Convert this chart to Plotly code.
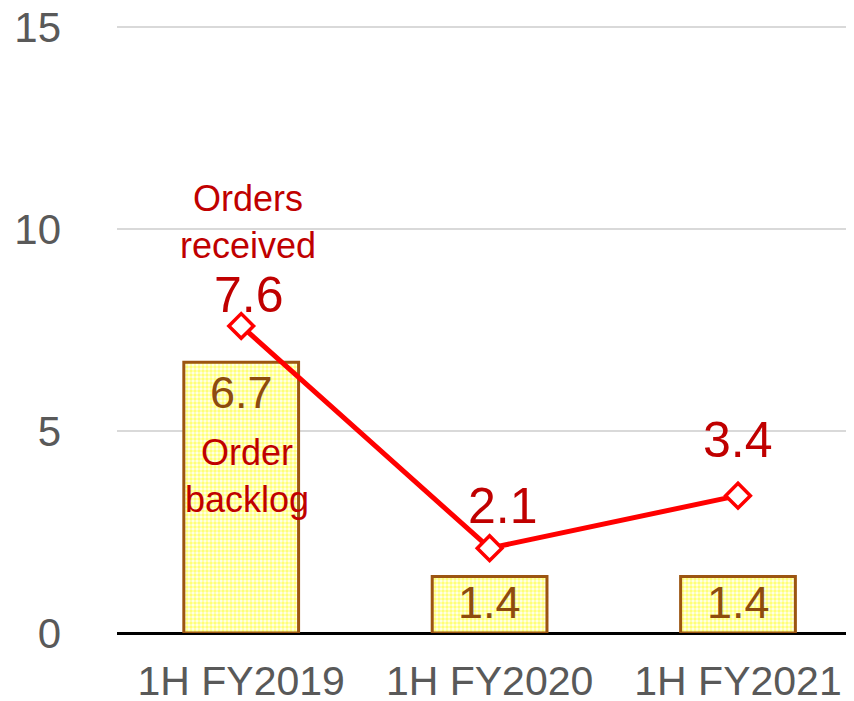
import plotly.graph_objects as go

categories = ["1H FY2019", "1H FY2020", "1H FY2021"]
order_backlog = [6.7, 1.4, 1.4]
orders_received = [7.6, 2.1, 3.4]
y_ticks = [0, 5, 10, 15]

FONT = "Liberation Sans, Arial, sans-serif"
DARKRED = "#C00000"
BROWN = "#8E4B0E"

# label offsets in pixels (styling only)
line_label_shift = [(8, 31), (13, 42), (0, 56)]
bar_label_shift = [-30, -26, -26]

x_idx = list(range(len(categories)))

fig = go.Figure()
fig.add_trace(go.Bar(
    x=x_idx, y=order_backlog, width=0.462,
    marker=dict(
        color="#FFFFE6",
        line=dict(color="#9C5511", width=3),
        pattern=dict(shape=".", fgcolor="#FFFF00", bgcolor="#FFFFF0", size=4, solidity=0.6),
    ),
    showlegend=False, hoverinfo="skip",
))
fig.add_trace(go.Scatter(
    x=x_idx, y=orders_received, mode="lines+markers",
    line=dict(color="#FF0000", width=5),
    marker=dict(symbol="diamond", size=19, color="white", line=dict(color="#FF0000", width=3.5)),
    showlegend=False, hoverinfo="skip",
))

annotations = []
for i, v in enumerate(order_backlog):
    annotations.append(dict(x=i, y=v, text=f"{v:.1f}", showarrow=False, yanchor="middle",
                            yshift=bar_label_shift[i],
                            font=dict(family=FONT, size=45, color=BROWN)))
for i, v in enumerate(orders_received):
    xs, ys = line_label_shift[i]
    annotations.append(dict(x=i, y=v, text=f"{v:.1f}", showarrow=False, yanchor="middle",
                            xshift=xs, yshift=ys,
                            font=dict(family=FONT, size=50, color=DARKRED)))
annotations.append(dict(x=0, y=orders_received[0], text="Orders<br>received", showarrow=False,
                        yanchor="middle", xshift=7, yshift=104,
                        font=dict(family=FONT, size=36, color=DARKRED)))
annotations.append(dict(x=0, y=order_backlog[0], text="Order<br>backlog", showarrow=False,
                        yanchor="middle", xshift=6, yshift=-114,
                        font=dict(family=FONT, size=36, color=DARKRED)))

fig.update_layout(
    width=846, height=693,
    margin=dict(l=109, r=0, t=17, b=68, autoexpand=False),
    paper_bgcolor="white", plot_bgcolor="white",
    annotations=annotations,
    xaxis=dict(
        tickmode="array", tickvals=x_idx, ticktext=categories,
        range=[-0.5, 2.467], showgrid=False, showline=False, zeroline=False,
        ticks="", ticklabelstandoff=20, automargin=False, ticklabeloverflow="allow",
        tickfont=dict(family=FONT, size=41, color="#595959"),
    ),
    yaxis=dict(
        range=[0, 15.05], tickvals=y_ticks, showgrid=True, gridcolor="#D9D9D9", gridwidth=1.5,
        zeroline=True, zerolinecolor="black", zerolinewidth=2.5,
        ticks="", ticklabelstandoff=55, automargin=False, ticklabeloverflow="allow",
        tickfont=dict(family=FONT, size=42, color="#595959"),
    ),
)

fig.write_html("out.html")
